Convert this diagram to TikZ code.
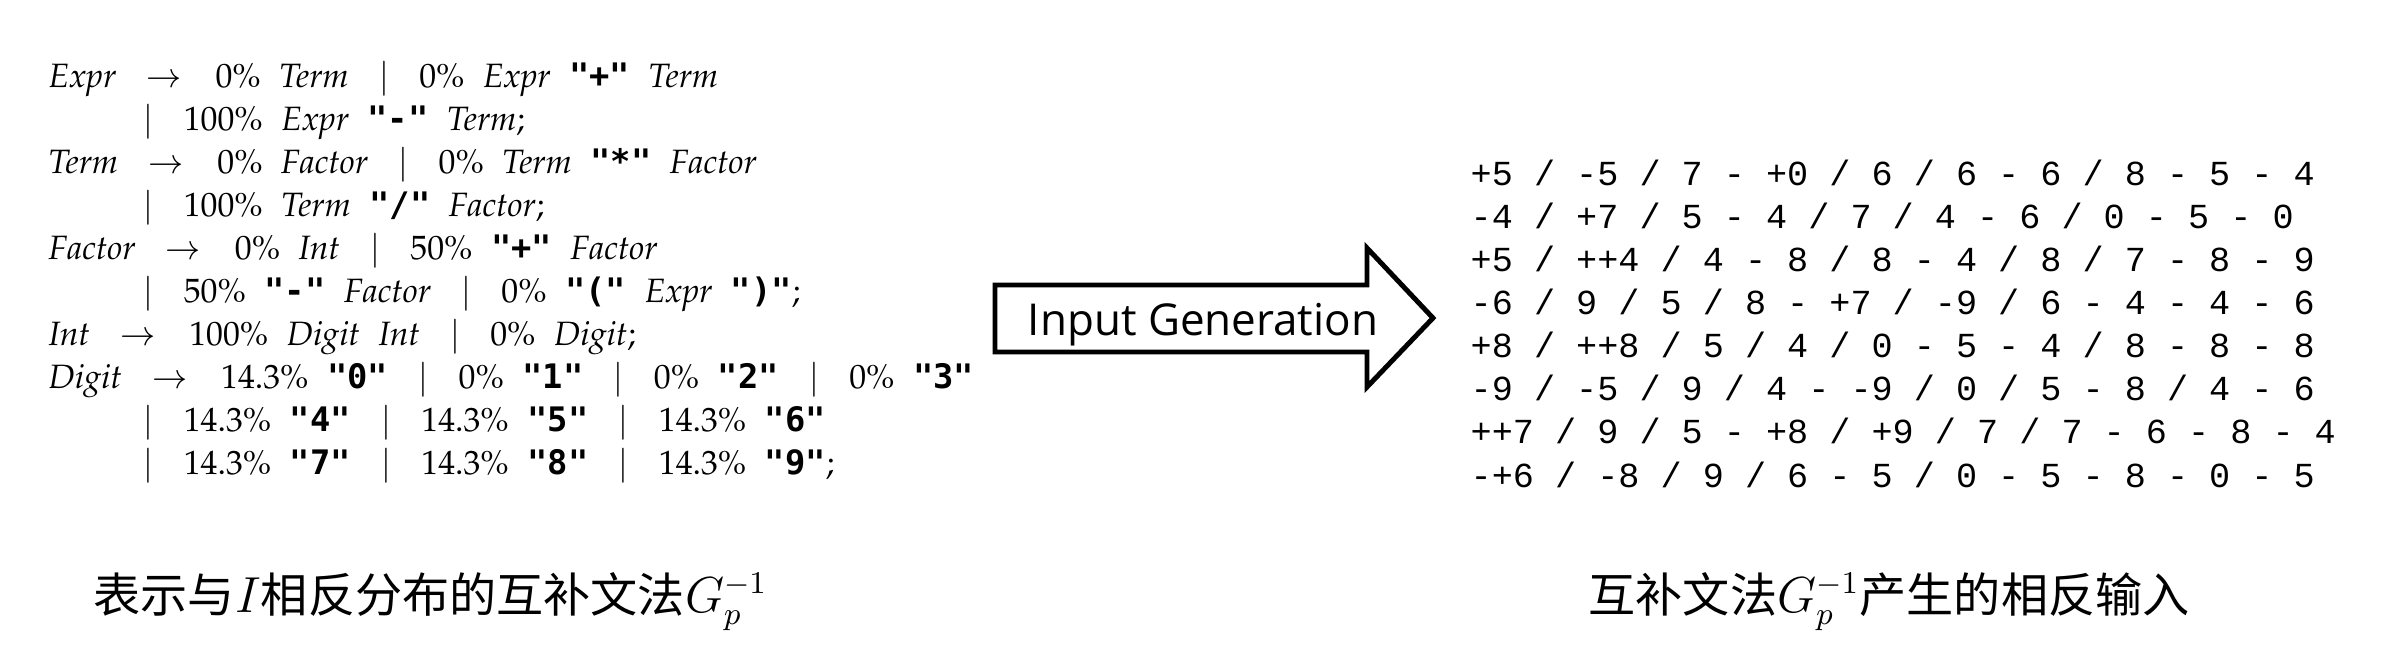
\documentclass[tikz,border=0pt]{standalone}
\usepackage{fontspec}
\newfontfamily\cjk{Noto Sans CJK SC}
\newfontfamily\uifont{Open Sans}
\newfontfamily\numfont{Liberation Mono}
\newfontfamily\termfont{DejaVu Sans Mono}
\newcommand{\pala}{\fontencoding{OT1}\fontfamily{ppl}\selectfont}
\newcommand{\nt}[1]{\textit{#1}}
\newcommand{\tm}[1]{{\termfont\bfseries"#1"}}
\newcommand{\alt}{\hspace{0.9em}$\mid$\hspace{0.9em}}
\newcommand{\gives}{\hspace{0.9em}$\rightarrow$\hspace{1em}}
\begin{document}
\begin{tikzpicture}[x=0.01cm,y=-0.01cm]
  \tikzset{ gl/.style={anchor=base west,inner sep=0pt,font={\fontsize{9.6}{11}\pala\spaceskip=0.55em\relax}},
    inp/.style={anchor=base west,inner sep=0pt,font={\numfont\fontsize{10}{12}\selectfont}},
    lbl/.style={anchor=base west,inner sep=0pt,font={\cjk\fontsize{13.4}{16}\selectfont}},
    bigarrow/.style={draw,line width=1.4pt,miter limit=10},
  }
  \useasboundingbox (0,0) rectangle (2390,666);

  % grammar with inverted probabilities
  \node[gl] (g1) at (48,87) {\nt{Expr}\gives 0\% \nt{Term}\alt 0\% \nt{Expr} \tm{+} \nt{Term}};
  \node[gl] (g2) at (143,130) {$\mid$\hspace{0.9em}100\% \nt{Expr} \tm{-} \nt{Term};};
  \node[gl] (g3) at (48,173) {\nt{Term}\gives 0\% \nt{Factor}\alt 0\% \nt{Term} \tm{*} \nt{Factor}};
  \node[gl] (g4) at (143,216) {$\mid$\hspace{0.9em}100\% \nt{Term} \tm{/} \nt{Factor};};
  \node[gl] (g5) at (48,259) {\nt{Factor}\gives 0\% \nt{Int}\alt 50\% \tm{+} \nt{Factor}};
  \node[gl] (g6) at (143,302) {$\mid$\hspace{0.9em}50\% \tm{-} \nt{Factor}\alt 0\% \tm{(} \nt{Expr} \tm{)};};
  \node[gl] (g7) at (48,345) {\nt{Int}\gives 100\% \nt{Digit} \nt{Int}\alt 0\% \nt{Digit};};
  \node[gl] (g8) at (48,388) {\nt{Digit}\gives 14.3\% \tm{0}\alt 0\% \tm{1}\alt 0\% \tm{2}\alt 0\% \tm{3}};
  \node[gl] (g9) at (143,431) {$\mid$\hspace{0.9em}14.3\% \tm{4}\alt 14.3\% \tm{5}\alt 14.3\% \tm{6}};
  \node[gl] (g10) at (143,474) {$\mid$\hspace{0.9em}14.3\% \tm{7}\alt 14.3\% \tm{8}\alt 14.3\% \tm{9};};

  % generation step
  \draw[bigarrow] (995,285) -- (1367,285) -- (1367,248) -- (1433,318) -- (1367,387) -- (1367,352) -- (995,352) -- cycle;
  \node[font={\uifont\fontsize{12.5}{15}\selectfont},anchor=base,inner sep=0pt] (gen) at (1203,335) {Input Generation};

  % generated inputs
  \node[inp] (i1) at (1470,185) {+5 / -5 / 7 - +0 / 6 / 6 - 6 / 8 - 5 - 4};
  \node[inp] (i2) at (1470,228) {-4 / +7 / 5 - 4 / 7 / 4 - 6 / 0 - 5 - 0};
  \node[inp] (i3) at (1470,271) {+5 / ++4 / 4 - 8 / 8 - 4 / 8 / 7 - 8 - 9};
  \node[inp] (i4) at (1470,314) {-6 / 9 / 5 / 8 - +7 / -9 / 6 - 4 - 4 - 6};
  \node[inp] (i5) at (1470,357) {+8 / ++8 / 5 / 4 / 0 - 5 - 4 / 8 - 8 - 8};
  \node[inp] (i6) at (1470,400) {-9 / -5 / 9 / 4 - -9 / 0 / 5 - 8 / 4 - 6};
  \node[inp] (i7) at (1470,443) {++7 / 9 / 5 - +8 / +9 / 7 / 7 - 6 - 8 - 4};
  \node[inp] (i8) at (1470,487) {-+6 / -8 / 9 / 6 - 5 / 0 - 5 - 8 - 0 - 5};

  % captions
  \node[lbl] (c1) at (93,612) {表示与$I$相反分布的互补文法$G_p^{-1}$};
  \node[lbl] (c2) at (1588,612) {互补文法$G_p^{-1}$产生的相反输入};
\end{tikzpicture}
\end{document}
